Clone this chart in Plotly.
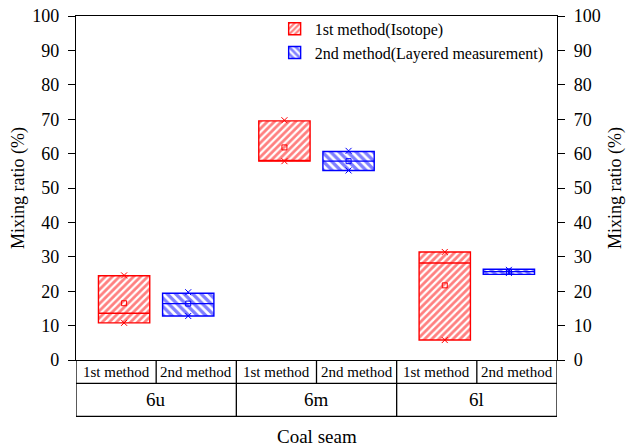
import numpy as np
import plotly.graph_objects as go

seams = ["6u", "6m", "6l"]
methods = ["1st method", "2nd method"]
legend_names = ["1st method(Isotope)", "2nd method(Layered measurement)"]

q1_1 = [10.8, 57.8, 5.8]
q3_1 = [24.5, 69.5, 31.4]
med_1 = [13.6, 58.0, 28.2]
mean_1 = [16.5, 61.8, 21.7]
min_1 = [10.8, 57.8, 5.8]
max_1 = [24.6, 69.7, 31.4]

q1_2 = [12.8, 55.1, 24.9]
q3_2 = [19.4, 60.6, 26.4]
med_2 = [16.4, 57.8, 25.7]
mean_2 = [16.4, 57.8, 25.7]
min_2 = [12.8, 55.1, 25.3]
max_2 = [19.7, 60.8, 26.2]

y_ticks = list(range(0, 101, 10))

FONT = "Times New Roman, Liberation Serif, DejaVu Serif, serif"
RED = "#ff0000"
BLUE = "#0000ff"

fig = go.Figure()
idx = np.arange(len(seams))
offsets = [-0.2, 0.2]
box_w = 0.32

series = [
    (q1_1, q3_1, med_1, mean_1, min_1, max_1, RED, "/", 5),
    (q1_2, q3_2, med_2, mean_2, min_2, max_2, BLUE, "\\", 6),
]

for k, (q1, q3, med, mean, mn, mx, col, shp, psize) in enumerate(series):
    xpos = idx + offsets[k]
    q1a = np.array(q1); q3a = np.array(q3)
    fig.add_trace(go.Bar(
        x=xpos, y=q3a - q1a, base=q1a, width=box_w,
        name=legend_names[k],
        marker=dict(color="white", line=dict(color=col, width=1.4),
                    pattern=dict(shape=shp, fgcolor=col, bgcolor="white",
                                 size=psize, solidity=0.55, fillmode="overlay")),
        hoverinfo="skip",
    ))
    mx_x, mx_y = [], []
    for xp, m in zip(xpos, med):
        mx_x += [xp - box_w / 2, xp + box_w / 2, None]
        mx_y += [m, m, None]
    fig.add_trace(go.Scatter(
        x=mx_x, y=mx_y, mode="lines", showlegend=False, hoverinfo="skip",
        line=dict(color=col, width=1.4),
    ))
    fig.add_trace(go.Scatter(
        x=xpos, y=mean, mode="markers", showlegend=False, hoverinfo="skip",
        marker=dict(symbol="square-open", size=5, color=col, line=dict(color=col, width=1)),
    ))
    fig.add_trace(go.Scatter(
        x=np.concatenate([xpos, xpos]), y=list(mn) + list(mx), mode="markers",
        showlegend=False, hoverinfo="skip",
        marker=dict(symbol="x-thin-open", size=6, color=col, line=dict(color=col, width=1)),
    ))

# dummy trace for right axis
fig.add_trace(go.Scatter(x=[None], y=[None], yaxis="y2", showlegend=False))

# table under x axis
row1 = -0.068
row2 = -0.164
shapes = []
line = dict(color="black", width=1.3)
for yv in [row1, row2]:
    shapes.append(dict(type="line", xref="x", yref="paper", x0=-0.5, x1=2.5, y0=yv, y1=yv, line=line))
for xv in [-0.5, 0.5, 1.5, 2.5]:
    shapes.append(dict(type="line", xref="x", yref="paper", x0=xv, x1=xv, y0=0, y1=row2, line=line))
for i in idx:
    shapes.append(dict(type="line", xref="x", yref="paper", x0=i, x1=i, y0=0, y1=row1, line=line))

annotations = []
for i, s in enumerate(seams):
    annotations.append(dict(x=i, y=(row1 + row2) / 2, xref="x", yref="paper", text=s,
                            showarrow=False, font=dict(family=FONT, size=19, color="black"),
                            yanchor="middle"))
    for k, m in enumerate(methods):
        annotations.append(dict(x=i + (k - 0.5) * 0.5, y=row1 / 2, xref="x", yref="paper", text=m,
                                showarrow=False, font=dict(family=FONT, size=15, color="black"),
                                yanchor="middle"))
annotations.append(dict(x=0.5, y=-0.222, xref="paper", yref="paper", text="Coal seam",
                        showarrow=False, font=dict(family=FONT, size=19, color="black"),
                        yanchor="middle"))

axis_common = dict(range=[0, 100], tickvals=y_ticks, ticks="outside", ticklen=7,
                   tickwidth=1.3, tickcolor="black", showgrid=False, zeroline=False,
                   showline=True, linecolor="black", linewidth=1.3,
                   ticklabelstandoff=5, automargin=False,
                   tickfont=dict(family=FONT, size=18, color="black"))

fig.update_layout(
    width=628, height=447,
    margin=dict(l=76, r=70.5, t=15.5, b=86.5),
    plot_bgcolor="white", paper_bgcolor="white",
    barmode="overlay",
    showlegend=True,
    legend=dict(x=0.413, y=1.012, xanchor="left", yanchor="top",
                font=dict(family=FONT, size=16, color="black"),
                bgcolor="rgba(0,0,0,0)", tracegroupgap=0, itemwidth=30),
    xaxis=dict(range=[-0.5, 2.5], showticklabels=False, ticks="", showgrid=False,
               zeroline=False, showline=True, linecolor="black", linewidth=1.3, mirror=True,
               automargin=False),
    yaxis=dict(**axis_common,
               title=dict(text="Mixing ratio (%)", font=dict(family=FONT, size=18, color="black"),
                          standoff=2)),
    yaxis2=dict(**axis_common, overlaying="y", side="right",
                title=dict(text="Mixing ratio (%)", font=dict(family=FONT, size=18, color="black"),
                           standoff=8)),
    shapes=shapes,
    annotations=annotations,
)

fig.write_html("out.html")
